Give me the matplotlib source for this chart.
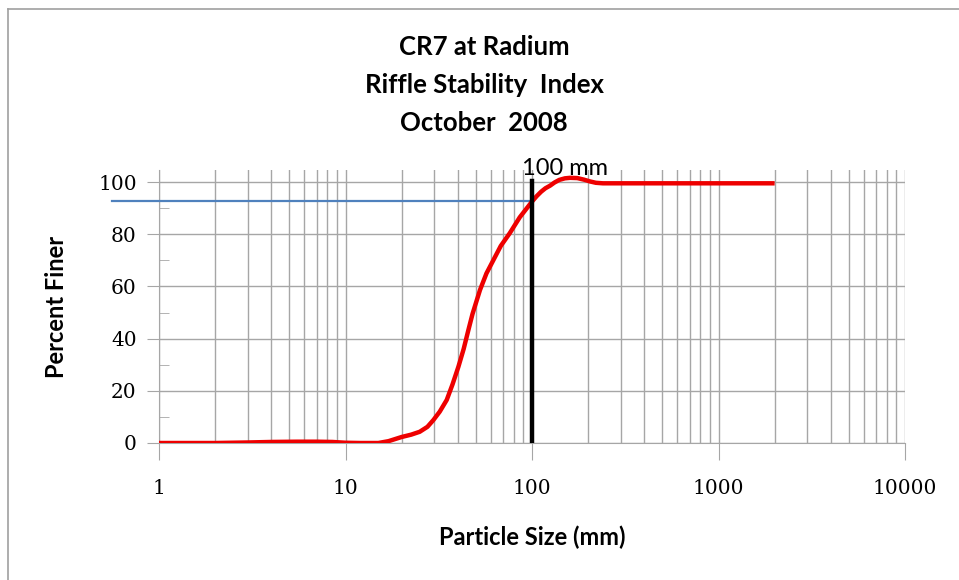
import matplotlib
matplotlib.use("Agg")
import matplotlib.pyplot as plt
from matplotlib.ticker import FixedLocator, NullFormatter, LogLocator
from matplotlib.lines import Line2D

# ---- data ----
title_lines = ["CR7 at Radium", "Riffle Stability  Index", "October  2008"]
particle_size = [1, 2, 3, 4, 5.5, 7, 8.5, 10, 12, 15, 17, 20, 22.5, 25, 27.5, 29.6, 32, 34.9,
                 37.5, 40.3, 43, 45.6, 48, 52.6, 57, 62, 68, 76, 86, 100, 106, 112, 118, 125,
                 132, 140, 150, 160, 175, 190, 205, 220, 240, 300, 2000]
percent_finer = [0, 0, 0.2, 0.4, 0.5, 0.5, 0.4, 0.1, 0, 0, 0.7, 2.3, 3.2, 4.3, 6.2, 8.8, 12, 16.5,
                 22.5, 29.2, 36, 43.3, 49.5, 58.6, 65, 70, 75.5, 80.4, 86.5, 92.5, 94.6, 96.3, 97.6, 98.6,
                 99.8, 100.8, 101.4, 101.6, 101.5, 100.9, 100.2, 99.7, 99.5, 99.5, 99.5]
d_size = 100          # riffle stability particle size (mm)
blue_x = [0.56, 100]
blue_y = [92.7, 92.7]
x_ticks = [1, 10, 100, 1000, 10000]
x_ticklabels = ["1", "10", "100", "1000", "10000"]
y_ticks = [0, 20, 40, 60, 80, 100]
y_minor = [10, 30, 50, 70, 90]

W, H = 959, 580
fig = plt.figure(figsize=(W / 100, H / 100), dpi=100)
ax = fig.add_axes([159 / W, 1 - 443 / H, (905 - 159) / W, (443 - 170) / H])

ax.set_xscale("log")
ax.set_xlim(1, 10000)
ax.set_ylim(0, 104.6)

grid_col = "#A6A6A6"
ax.xaxis.set_major_locator(FixedLocator(x_ticks))
ax.xaxis.set_minor_locator(LogLocator(base=10, subs=range(2, 10)))
ax.xaxis.set_minor_formatter(NullFormatter())
ax.set_xticks(x_ticks)
ax.set_xticklabels(x_ticklabels)
ax.set_yticks(y_ticks)
ax.yaxis.set_minor_locator(FixedLocator(y_minor))

ax.grid(True, which="major", axis="both", color=grid_col, linewidth=1.0)
ax.grid(True, which="minor", axis="x", color=grid_col, linewidth=1.0)
ax.set_axisbelow(True)

for s in ["top", "right"]:
    ax.spines[s].set_visible(False)
ax.spines["left"].set_color(grid_col)
ax.spines["bottom"].set_color(grid_col)

ax.tick_params(axis="x", which="major", direction="out", length=12, color=grid_col, pad=14)
ax.tick_params(axis="x", which="minor", length=0)
ax.tick_params(axis="y", which="major", direction="out", length=9, color=grid_col, pad=7)
ax.tick_params(axis="y", which="minor", direction="in", length=7, color=grid_col)

for lab in ax.get_xticklabels() + ax.get_yticklabels():
    lab.set_family("DejaVu Serif")
    lab.set_fontsize(14.5)

# red gradation curve
ax.plot(particle_size, percent_finer, color="#EE0000", linewidth=3.2, zorder=4,
        solid_capstyle="butt", solid_joinstyle="round")
# blue horizontal line
ax.plot(blue_x, blue_y, color="#4F81BD", linewidth=1.6, zorder=3, clip_on=False)
# black vertical line at 100 mm
ax.plot([d_size, d_size], [0, 100.5], color="black", linewidth=3.2, zorder=5)
ax.text(d_size * 0.884, 101.3, "100 mm", fontsize=17, family="Lato",
        ha="left", va="bottom", zorder=6)

ax.set_xlabel("Particle Size (mm)", fontsize=17, family="Lato", fontweight="bold", labelpad=20)
ax.set_ylabel("Percent Finer", fontsize=17, family="Lato", fontweight="bold", labelpad=22)

# title (three lines)
for i, t in enumerate(title_lines):
    fig.text(484 / W, 1 - (47 + 37.8 * i) / H, t, ha="center", va="center",
             fontsize=18.5, family="Lato", fontweight="bold")

# figure frame (top and left edges visible)
fig.add_artist(Line2D([8 / W, 1], [1 - 9 / H, 1 - 9 / H], color="#A0A0A0", linewidth=1.2,
                      transform=fig.transFigure))
fig.add_artist(Line2D([8 / W, 8 / W], [0, 1 - 9 / H], color="#A0A0A0", linewidth=1.2,
                      transform=fig.transFigure))

fig.savefig("out.png", dpi=100, facecolor="white")
